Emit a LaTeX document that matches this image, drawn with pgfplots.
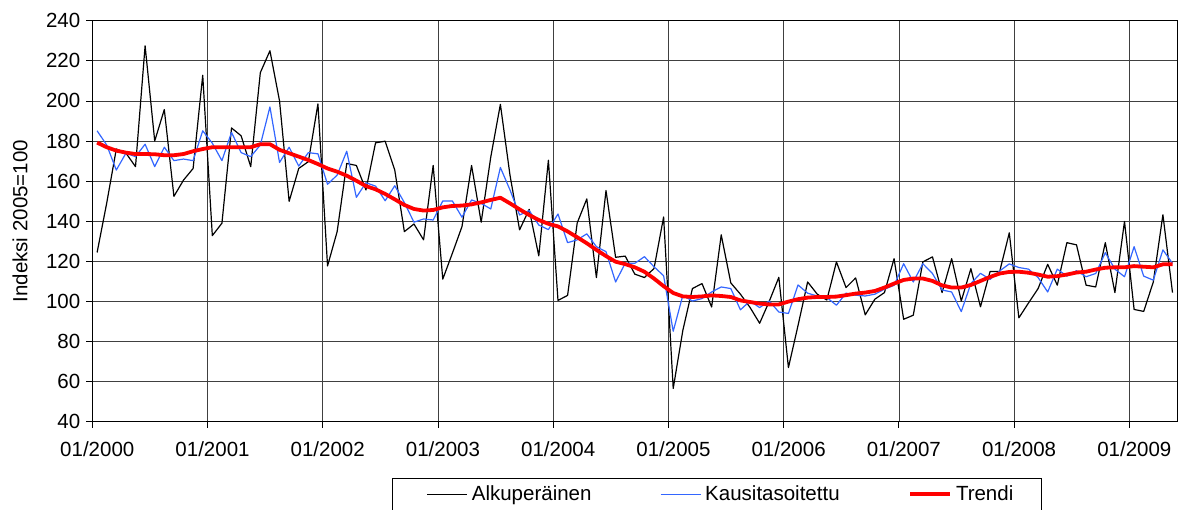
\documentclass[border=0pt]{standalone}
\usepackage{pgfplots}
\pgfplotsset{compat=1.18}
\usepackage{pgfplotstable}
\usepackage{fontspec}
\setmainfont{Liberation Sans}
\definecolor{kblue}{RGB}{51,102,255}
\pgfplotstableread{
m A K T
0 124.4 185.1 179.2
1 149 178 176.9
2 176 165.5 175.2
3 174 173.9 174.2
4 167.2 172.2 173.5
5 227.5 178.4 173.5
6 180 167.2 173.4
7 195.7 176.9 172.9
8 152.4 170.2 172.9
9 160.5 171 173.5
10 166.3 170.2 174.9
11 212.8 185.1 176
12 132.8 178.9 176.9
13 139 170.2 176.9
14 186.5 184.3 176.9
15 182.6 174.2 176.9
16 167.2 172.2 176.9
17 214.1 178 178.4
18 225 197 178.4
19 200 169.3 175.6
20 149.9 176.9 173.9
21 166.3 167.5 172.2
22 169.7 174.2 170.5
23 198.5 173.6 168.5
24 117.7 158.4 166.3
25 134.8 163 164.7
26 168.8 174.9 162.7
27 167.8 151.9 160.2
28 155.6 159.2 157.5
29 179.1 157.5 155.9
30 179.9 150.2 153.6
31 165.5 157.7 150.9
32 134.8 149.3 148.1
33 138.6 139.5 146.1
34 130.7 141.1 145.3
35 167.8 140.6 145.6
36 111.1 150.1 146.9
37 124 150.1 147.6
38 137.3 142 147.8
39 167.8 150.6 148.4
40 139.5 148.9 149.4
41 172 146.1 150.6
42 198.3 166.8 151.7
43 163 155.6 148.9
44 135.7 143.1 145.9
45 145.9 145.3 143.1
46 122.7 138.1 140.6
47 170.4 135.8 138.7
48 100.5 143.6 137.4
49 103 129.3 134.9
50 139.1 130.7 132
51 151.1 133.7 129
52 111.9 127.3 125.7
53 155.3 124.8 122.6
54 122 109.7 119.8
55 122.6 119 118.6
56 113.6 119 117
57 111.9 122.3 114.8
58 116.4 117.3 111.4
59 142.1 112.8 107.6
60 56.6 85.1 104.2
61 85.5 103 102.5
62 106.4 100.2 102.2
63 108.9 101.4 102.5
64 97.2 104.7 103
65 133.2 107.2 102.7
66 109.2 106.4 102.2
67 103.6 95.8 100.5
68 97 100.2 99.7
69 89.1 96.9 98.9
70 100 100.2 98.5
71 112 94.7 98.5
72 67 94 99.9
73 88 108.2 101.1
74 109.7 104.1 101.9
75 103.6 102.7 102.2
76 100.7 101.9 102.2
77 119.7 98.1 102.4
78 106.9 104.1 103.1
79 111.7 103.1 103.9
80 93.3 102.7 104.4
81 101.1 103.6 105.2
82 104.4 106.1 106.9
83 121.3 108 108.9
84 91.1 118.8 110.7
85 93.1 109.7 111.4
86 119.7 118.8 111.4
87 122.2 113.9 110.2
88 104.4 105.7 108
89 121.3 104.7 106.9
90 100.2 94.9 106.9
91 116.3 108.9 108.2
92 97.3 114 110.2
93 114.9 111 112.2
94 114.9 115.2 113.9
95 134.2 118.7 114.7
96 91.8 116.9 114.8
97 99.2 116.1 114.3
98 106.4 111.9 113.4
99 118.5 104.7 112.3
100 108.1 116.1 112.6
101 129.3 112.6 113.4
102 128.2 115.3 114.4
103 108.1 112.3 114.8
104 107.2 113.9 115.9
105 129.3 124.3 116.8
106 104.4 116.1 117
107 139.9 112.3 117
108 96 127.3 117.6
109 95 112.6 117.3
110 109.7 110.6 117
111 143.2 125.7 118.5
112 104.4 119 118.5
}\datatable

\begin{document}
\begin{tikzpicture}[x=1pt,y=1pt]
\useasboundingbox (0,0) rectangle (1182,509);
\begin{axis}[
  at={(92.3pt,87.3pt)}, anchor=south west,
  scale only axis, width=1085pt, height=401pt,
  xmin=0, xmax=113, ymin=40, ymax=240,
  xtick={0,12,...,108},
  xticklabels={01/2000,01/2001,01/2002,01/2003,01/2004,01/2005,01/2006,01/2007,01/2008,01/2009},
  ytick={40,60,...,240},
  tick align=outside, major tick length=6pt, tick pos=left,
  grid=major, major grid style={black!75, line width=0.7pt},
  axis line style={black, line width=0.9pt},
  tick style={black, line width=0.8pt},
  ticklabel style={font=\fontsize{20.5}{24}\selectfont},
  /pgf/number format/assume math mode=true,
  yticklabel style={xshift=-2.5pt},
  xticklabel style={yshift=-10pt, xshift=5pt},
  ylabel={Indeksi 2005=100},
  ylabel style={at={(axis description cs:-0.0666,0.5)}, anchor=center, font=\fontsize{20.5}{24}\selectfont},
  legend columns=3,
  legend style={at={(axis description cs:0.276,-0.1397)}, anchor=north west, draw=black, line width=0.8pt,
    inner xsep=24.5pt, inner ysep=5pt, font=\fontsize{20.5}{24}\selectfont,
    nodes={inner xsep=4pt, inner ysep=3pt},
    /tikz/every even column/.append style={column sep=54.5pt}},
  legend image code/.code={\path (-10pt,0pt); \draw[#1] (0pt,0pt) -- (40pt,0pt);},
]
\addplot[black, line width=1.2pt, line join=round] table[x expr=\thisrow{m}+0.5, y=A]{\datatable};
\addlegendentry{Alkuperäinen}
\addplot[kblue, line width=1.2pt, line join=round] table[x expr=\thisrow{m}+0.5, y=K]{\datatable};
\addlegendentry{Kausitasoitettu}
\addplot[red, line width=3.8pt, line join=round] table[x expr=\thisrow{m}+0.5, y=T]{\datatable};
\addlegendentry{Trendi}
\end{axis}
\end{tikzpicture}
\end{document}
